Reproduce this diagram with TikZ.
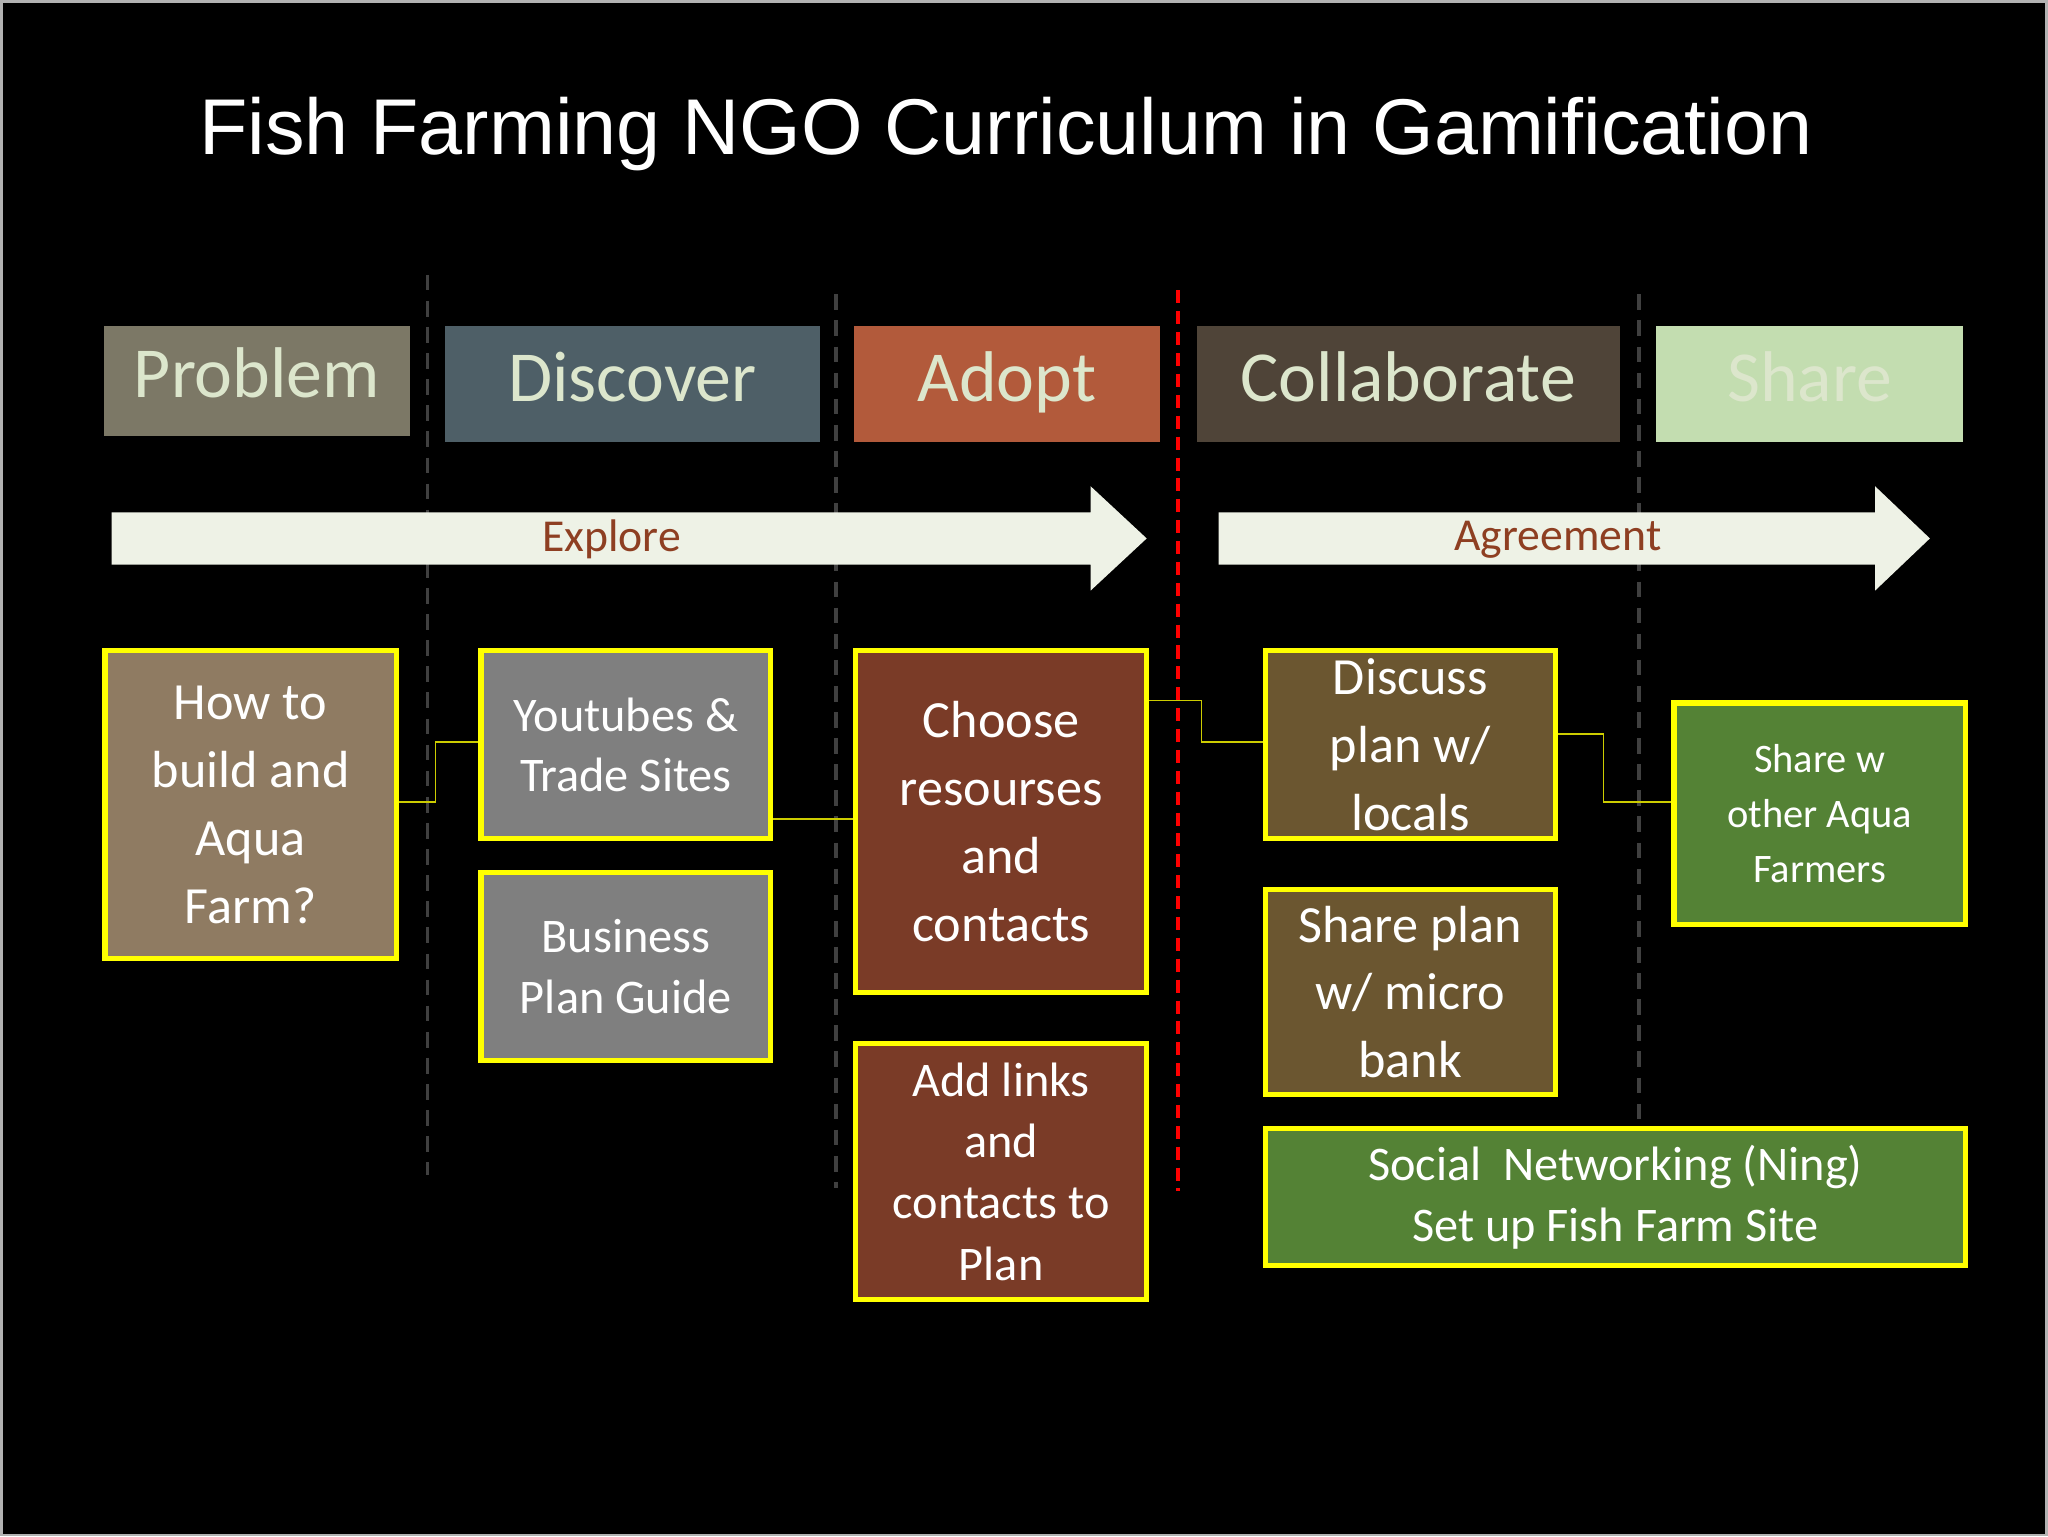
\documentclass[tikz,border=0pt]{standalone}
\usepackage{fontspec}
\setmainfont{Carlito}
\newfontfamily\titlefont{Liberation Sans}
\definecolor{hdrtxt}{HTML}{DCE6CC}
\definecolor{ylw}{HTML}{FFFF00}
\definecolor{arrowfill}{HTML}{EEF2E6}
\definecolor{arrowtxt}{HTML}{8E3F22}
\definecolor{cproblem}{HTML}{7C7866}
\definecolor{cdiscover}{HTML}{4E5F67}
\definecolor{cadopt}{HTML}{B25A3B}
\definecolor{ccollab}{HTML}{4F4438}
\definecolor{cshare}{HTML}{C3DDB0}
\definecolor{chowto}{HTML}{8F7B62}
\definecolor{cgrey}{HTML}{7F7F7F}
\definecolor{cbrown}{HTML}{7A3B27}
\definecolor{colive}{HTML}{6B5630}
\definecolor{cgreen}{HTML}{548235}
\tikzset{
 hdr/.style={minimum width=#1, minimum height=44.5pt, anchor=north west, inner sep=0pt, text=hdrtxt, text height=19pt, text depth=6pt, font=\fontsize{27.5}{30}\selectfont},
 cbox/.style n args={3}{draw=ylw, line width=2pt, fill=#3, minimum width=#1, minimum height=#2, anchor=north west, align=center, text=white, inner sep=2pt, font=\fontsize{20}{26}\selectfont},
 sep/.style={line width=1.5pt, dash pattern=on 6pt off 4pt},
 conn/.style={draw=ylw!80!black, line width=0.6pt},
 arrtxt/.style={text=arrowtxt, font=\fontsize{17.5}{20}\selectfont}
}
\begin{document}
\begin{tikzpicture}[x=0.5pt,y=-0.5pt]
\fill[black] (0,0) rectangle (1568,1176);
\draw[gray!60, line width=1pt] (0.5,0.5) rectangle (1567.5,1175.5);
\node[text=white, font=\titlefont\fontsize{30.3}{34}\selectfont] (title) at (770,102) {Fish Farming NGO Curriculum in Gamification};
% separators
\draw[sep, gray!50!black] (327,210) -- (327,900);
\draw[sep, gray!50!black] (640,225) -- (640,910);
\draw[sep, red, dash pattern=on 5pt off 3pt] (902,222) -- (902,912);
\draw[sep, gray!50!black] (1255,225) -- (1255,860);
% headers
\node[hdr=117pt, fill=cproblem, minimum height=42pt] (problem) at (79,249) {Problem};
\node[hdr=143.5pt, fill=cdiscover] (discover) at (340,249) {Discover};
\node[hdr=117.5pt, fill=cadopt] (adopt) at (653,249) {Adopt};
\node[hdr=162pt, fill=ccollab] (collab) at (916,249) {Collaborate};
\node[hdr=117.5pt, fill=cshare] (share) at (1268,249) {Share};
% arrows
\fill[arrowfill] (85,392) -- (835,392) -- (835,372) -- (878,412) -- (835,452) -- (835,432) -- (85,432) -- cycle;
\node[arrtxt] (explore) at (468,413) {Explore};
\fill[arrowfill] (933,392) -- (1436,392) -- (1436,372) -- (1478,412) -- (1436,452) -- (1436,432) -- (933,432) -- cycle;
\node[arrtxt] (agree) at (1193,413) {Agreement};
% content boxes
\node[cbox={111.5pt}{118pt}{chowto}] (howto) at (78,496) {How to\\build and\\Aqua\\Farm?};
\node[cbox={111pt}{72pt}{cgrey}, font=\fontsize{18.5}{23}\selectfont] (youtube) at (366,496) {Youtubes \&\\Trade Sites};
\node[cbox={111pt}{72pt}{cgrey}, font=\fontsize{18.5}{23}\selectfont] (business) at (366,666) {Business\\Plan Guide};
\node[cbox={111.5pt}{131pt}{cbrown}] (choose) at (653,496) {Choose\\resourses\\and\\contacts};
\node[cbox={111.5pt}{98pt}{cbrown}, font=\fontsize{18.5}{23.5}\selectfont] (addlinks) at (653,797) {Add links\\and\\contacts to\\Plan};
\node[cbox={111pt}{72pt}{colive}] (discuss) at (967,496) {Discuss\\plan w/\\locals};
\node[cbox={111pt}{78.5pt}{colive}] (shareplan) at (967,679) {Share plan\\w/ micro\\bank};
\node[cbox={268pt}{52.5pt}{cgreen}, font=\fontsize{18.5}{23.5}\selectfont] (social) at (967,862) {Social\ \ Networking (Ning)\\Set up Fish Farm Site};
\node[cbox={111.5pt}{85pt}{cgreen}, font=\fontsize{15.5}{21}\selectfont] (sharew) at (1280,536) {Share w\\other Aqua\\Farmers};
% connectors
\coordinate (c1) at (333,614);
\coordinate (c2) at (920,536);
\coordinate (c3) at (1228,562);
\draw[conn] (howto.east |- c1) -- (c1) |- (youtube.west |- 0,568);
\draw[conn] (youtube.east |- 0,627) -- (choose.west |- 0,627);
\draw[conn] (choose.east |- c2) -- (c2) |- (discuss.west |- 0,568);
\draw[conn] (discuss.east |- c3) -- (c3) |- (sharew.west |- 0,614);
\end{tikzpicture}
\end{document}
